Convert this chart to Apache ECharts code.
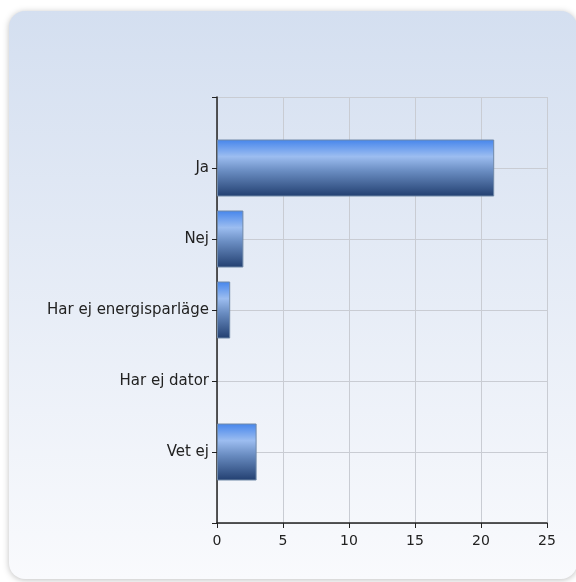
<!DOCTYPE html>
<html>
<head>
<meta charset="utf-8">
<script src="https://cdn.jsdelivr.net/npm/echarts@6/dist/echarts.min.js"></script>
<style>
html, body { margin: 0; padding: 0; background: #fff; }
#container { width: 576px; height: 582px; }
</style>
</head>
<body>
<div id="container"></div>
<script>
var categories = ['Ja', 'Nej', 'Har ej energisparläge', 'Har ej dator', 'Vet ej'];
var values = [21, 2, 1, 0, 3];
var xTicks = [0, 5, 10, 15, 20, 25];

var myChart = echarts.init(document.getElementById('container'));

// empty slot at each end so the categories sit on the ticks
var yData = [''].concat(categories, ['']);
var barData = [null];
for (var i = 0; i < values.length; i++) {
    if (values[i] === 0) {
        barData.push({ value: 0, itemStyle: { borderWidth: 0, opacity: 0 } });
    } else {
        barData.push(values[i]);
    }
}
barData.push(null);

var barColor = new echarts.graphic.LinearGradient(0, 0, 0, 1, [
    { offset: 0, color: '#4585ec' },
    { offset: 0.3, color: '#9cbdf0' },
    { offset: 0.55, color: '#6a8dc2' },
    { offset: 1, color: '#223f70' }
]);

var option = {
    animation: false,
    graphic: [{
        type: 'rect',
        shape: { x: 9, y: 11, width: 568, height: 568, r: 16 },
        style: {
            fill: new echarts.graphic.LinearGradient(0, 0, 0, 1, [
                { offset: 0, color: '#d4dff0' },
                { offset: 1, color: '#f9fafd' }
            ]),
            shadowBlur: 6,
            shadowColor: 'rgba(0,0,0,0.25)',
            shadowOffsetY: 1
        },
        z: -10
    }],
    grid: { left: 217, right: 29, top: 97, bottom: 59 },
    xAxis: {
        type: 'value',
        min: xTicks[0],
        max: xTicks[xTicks.length - 1],
        interval: 5,
        axisLine: { show: true, lineStyle: { color: '#222', width: 1.5 } },
        axisTick: { show: true, length: 5, lineStyle: { color: '#222' } },
        axisLabel: { color: '#222', fontFamily: 'DejaVu Sans', fontSize: 14, margin: 11 },
        splitLine: { show: true, lineStyle: { color: '#c9ccd3' } }
    },
    yAxis: {
        type: 'category',
        data: yData,
        inverse: true,
        boundaryGap: false,
        axisLine: { show: true, onZero: false, lineStyle: { color: '#222', width: 1.5 } },
        axisTick: { show: true, length: 5, lineStyle: { color: '#222' } },
        axisLabel: { color: '#222', fontFamily: 'DejaVu Sans', fontSize: 15, margin: 8 },
        splitLine: { show: true, lineStyle: { color: '#c9ccd3' } }
    },
    series: [{
        type: 'bar',
        data: barData,
        barWidth: 57,
        itemStyle: {
            color: barColor,
            borderColor: '#7089a8',
            borderWidth: 1
        }
    }]
};

myChart.setOption(option);
</script>
</body>
</html>
